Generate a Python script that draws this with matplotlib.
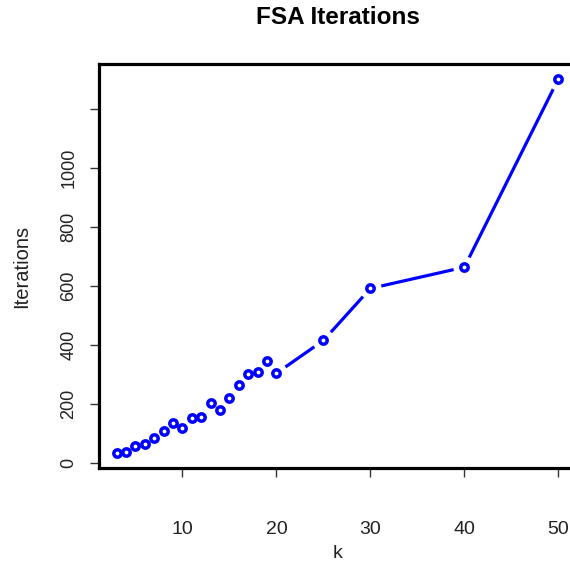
import matplotlib
matplotlib.use("Agg")
import matplotlib.pyplot as plt
import numpy as np

k = [3, 4, 5, 6, 7, 8, 9, 10, 11, 12, 13, 14, 15, 16, 17, 18, 19, 20, 25, 30, 40, 50]
iterations = [34, 38, 58, 63, 84, 107, 134, 120, 151, 156, 205, 180, 220, 263, 300, 308, 346, 304, 415, 591, 663, 1300]
xticks = [10, 20, 30, 40, 50]
yticks = [0, 200, 400, 600, 800, 1000, 1200]
ytick_labels = ["0", "200", "400", "600", "800", "1000", ""]

plt.rcParams['font.family'] = ['Liberation Sans', 'DejaVu Sans']

W, H = 570, 565
fig = plt.figure(figsize=(W / 100, H / 100), dpi=100)
left, right, top, bottom = 99, 576, 64, 468
ax = fig.add_axes([left / W, 1 - bottom / H, (right - left) / W, (bottom - top) / H])

xr = max(k) - min(k)
yr = max(iterations) - min(iterations)
ax.set_xlim(min(k) - 0.04 * xr, max(k) + 0.04 * xr)
ax.set_ylim(min(iterations) - 0.04 * yr, max(iterations) + 0.04 * yr)

blue = '#0000FF'
ax.plot(k, iterations, color=blue, lw=2.3, zorder=2, solid_capstyle='butt')
ax.plot(k, iterations, 'o', ms=15, mfc='white', mec='white', zorder=3)
ax.plot(k, iterations, 'o', ms=5.3, mfc='none', mec=blue, mew=2.5, zorder=4)

for s in ax.spines.values():
    s.set_linewidth(2.3)
    s.set_color('black')

ax.set_xticks(xticks)
ax.set_xticklabels([str(v) for v in xticks])
ax.set_yticks(yticks)
ax.set_yticklabels(ytick_labels, rotation=90, va='center')
ax.tick_params(axis='both', direction='out', length=6.5, width=1, color='#333333',
               labelcolor='#222222')
ax.tick_params(axis='x', pad=32, labelsize=14)
ax.tick_params(axis='y', pad=9, labelsize=13)

fig.text((left + right) / 2 / W, 1 - 554 / H, 'k', fontsize=14, color='#222222',
         ha='center', va='center')
fig.text(22 / W, 1 - 266 / H, 'Iterations', fontsize=14.5, color='#222222',
         ha='center', va='center', rotation=90)
fig.text((left + right) / 2 / W, 1 - 17 / H, 'FSA Iterations', fontsize=17.5,
         fontweight='bold', ha='center', va='center')

fig.savefig('out.png', dpi=100)
